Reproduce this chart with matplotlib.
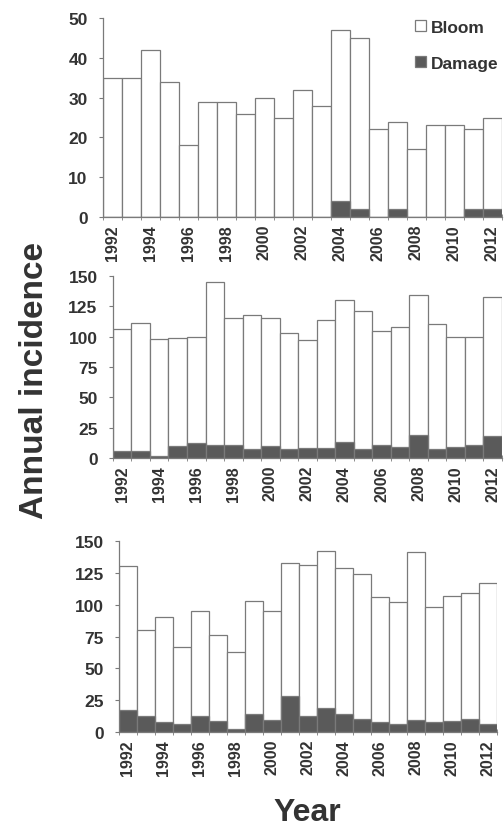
import matplotlib
matplotlib.use('Agg')
import matplotlib.pyplot as plt
import numpy as np

plt.rcParams['font.family'] = ['Liberation Sans', 'DejaVu Sans']
plt.rcParams['font.weight'] = 'bold'

years = list(range(1992, 2013))

bloom_1 = [35, 35, 42, 34, 18, 29, 29, 26, 30, 25, 32, 28, 47, 45, 22, 24, 17, 23, 23, 22, 25]
damage_1 = [0, 0, 0, 0, 0, 0, 0, 0, 0, 0, 0, 0, 4, 2, 0, 2, 0, 0, 0, 2, 2]

bloom_2 = [106, 111, 98, 99, 100, 145, 115, 118, 115, 103, 97, 114, 130, 121, 105, 108, 134, 110, 100, 100, 133]
damage_2 = [6, 6, 1.5, 10, 12, 11, 11, 7, 10, 7, 8, 8, 13, 7, 11, 9, 19, 7, 9, 11, 18]

bloom_3 = [130, 80, 90, 67, 95, 76, 63, 103, 95, 133, 131, 142, 129, 124, 106, 102, 141, 98, 107, 109, 117]
damage_3 = [17.5, 12.5, 8, 6.5, 12.5, 8.5, 2, 14.5, 9.5, 28, 12.5, 18.5, 14.5, 10.5, 7.5, 6.5, 9.5, 8, 8.5, 10.5, 6.5]

panels = [
    (bloom_1, damage_1, 50, 10, [0.204, 0.7367, 0.792, 0.2403]),
    (bloom_2, damage_2, 150, 25, [0.224, 0.4457, 0.772, 0.2198]),
    (bloom_3, damage_3, 150, 25, [0.236, 0.1147, 0.750, 0.2307]),
]

txt = '#333333'
edge = '#7a7a7a'
dark = '#5a5a5a'

fig = plt.figure(figsize=(5.04, 8.28), dpi=100)
x = np.array(years)
axes = []
for bloom, damage, ymax, step, rect in panels:
    ax = fig.add_axes(rect)
    ax.bar(x, bloom, width=1.0, color='white', edgecolor=edge, linewidth=0.9, label='Bloom')
    ax.bar(x, damage, width=1.0, color=dark, edgecolor=edge, linewidth=0.9, label='Damage')
    ax.set_xlim(1991.5, 2012.5)
    ax.set_ylim(0, ymax)
    ax.set_yticks(np.arange(0, ymax + 1, step))
    ax.set_xticks(x[::2])
    ax.set_xticklabels([str(y) for y in years[::2]], rotation=90)
    ax.set_xticks(np.arange(1991.5, 2013, 1), minor=True)
    ax.tick_params(axis='x', which='major', length=0, pad=5, labelsize=11.5, labelcolor=txt)
    ax.tick_params(axis='x', which='minor', length=4, direction='inout', color=edge)
    ax.tick_params(axis='y', length=3, color=edge, labelsize=12.5, labelcolor=txt, pad=8)
    for s in ['top', 'right']:
        ax.spines[s].set_visible(False)
    for s in ['left', 'bottom']:
        ax.spines[s].set_color(edge)
        ax.spines[s].set_linewidth(0.9)
    axes.append(ax)

leg = axes[0].legend(loc='upper right', bbox_to_anchor=(1.03, 1.07), frameon=False,
                     handlelength=0.6, handleheight=0.6, handletextpad=0.3,
                     labelspacing=1.2, prop={'size': 12.5, 'weight': 'bold'})
for t in leg.get_texts():
    t.set_color(txt)

fig.text(0.069, 0.541, 'Annual incidence', rotation=90, ha='center', va='center',
         fontsize=24, fontweight='bold', color=txt)
fig.text(0.609, 0.018, 'Year', ha='center', va='center',
         fontsize=23, fontweight='bold', color=txt)

fig.savefig('out.png', dpi=100)
